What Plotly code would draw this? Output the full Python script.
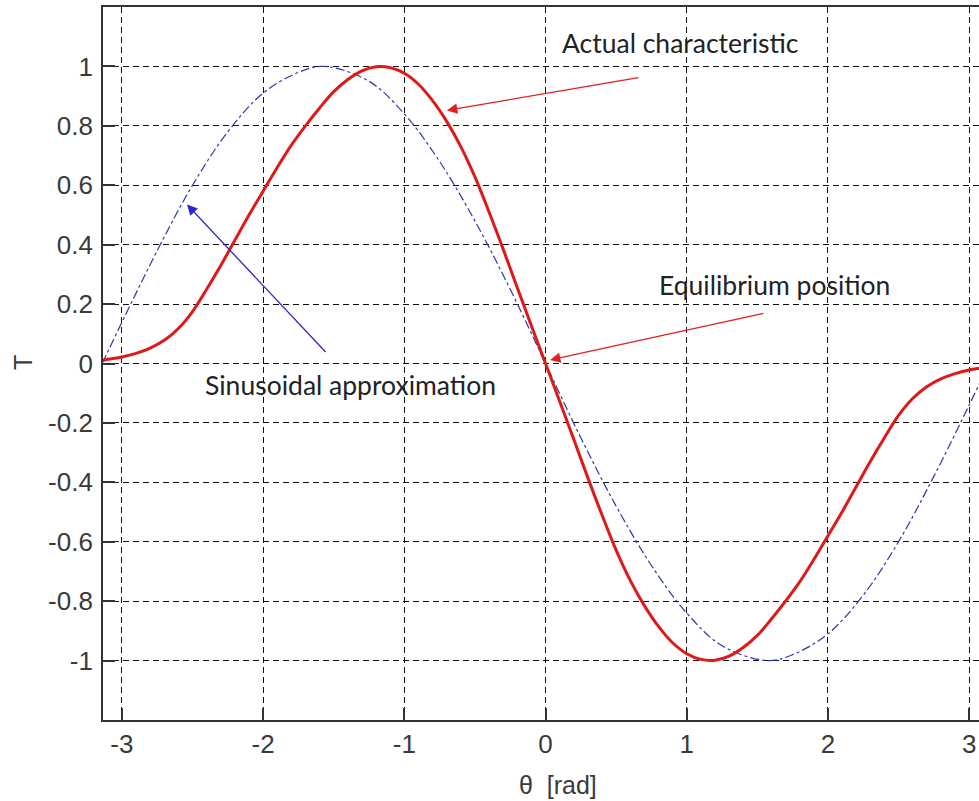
import plotly.graph_objects as go

# Actual characteristic
actual_x = [-3.14, -3.1, -3.0, -2.9, -2.8, -2.7, -2.6, -2.5, -2.4, -2.3, -2.2, -2.1, -2.0,
            -1.9, -1.8, -1.7, -1.6, -1.5, -1.4, -1.3, -1.2, -1.1, -1.0, -0.9, -0.8, -0.7,
            -0.6, -0.5, -0.4, -0.3, -0.2, -0.1, 0.0,
            0.1, 0.2, 0.3, 0.4, 0.5, 0.6, 0.7, 0.8, 0.9, 1.0, 1.1, 1.2, 1.3, 1.4, 1.5,
            1.6, 1.7, 1.8, 1.9, 2.0, 2.1, 2.2, 2.3, 2.4, 2.5, 2.6, 2.7, 2.8, 2.9, 3.0,
            3.1, 3.14]
actual_y = [0.01, 0.014, 0.022, 0.034, 0.052, 0.078, 0.118, 0.175, 0.25, 0.33, 0.415, 0.5, 0.58,
            0.66, 0.735, 0.8, 0.86, 0.915, 0.956, 0.985, 0.999, 0.996, 0.977, 0.94, 0.885, 0.815,
            0.73, 0.628, 0.51, 0.385, 0.255, 0.127, 0.0,
            -0.127, -0.255, -0.385, -0.51, -0.628, -0.73, -0.815, -0.885, -0.94, -0.977, -0.996,
            -0.999, -0.985, -0.956, -0.915, -0.86, -0.8, -0.735, -0.66, -0.58, -0.5, -0.415,
            -0.33, -0.25, -0.175, -0.118, -0.078, -0.052, -0.034, -0.022, -0.014, -0.01]

# Sinusoidal approximation
sin_x = [-3.14, -2.75, -2.5, -2.25, -2.0, -1.75, -1.57, -1.25, -1.0, -0.75, -0.5, -0.25,
         0.0, 0.25, 0.5, 0.75, 1.0, 1.25, 1.57, 1.75, 2.0, 2.25, 2.5, 2.75, 3.0, 3.14]
sin_y = [0.0, 0.38, 0.6, 0.78, 0.91, 0.98, 1.0, 0.95, 0.84, 0.68, 0.48, 0.25,
         0.0, -0.25, -0.48, -0.68, -0.84, -0.95, -1.0, -0.98, -0.91, -0.78, -0.6, -0.38, -0.14, 0.0]

x_ticks = [-3, -2, -1, 0, 1, 2, 3]
y_ticks = [-1, -0.8, -0.6, -0.4, -0.2, 0, 0.2, 0.4, 0.6, 0.8, 1]
y_ticklabels = ["-1", "-0.8", "-0.6", "-0.4", "-0.2", "0", "0.2", "0.4", "0.6", "0.8", "1"]

fig = go.Figure()
fig.add_trace(go.Scatter(x=sin_x, y=sin_y, mode="lines", line_shape="spline",
                         line=dict(color="#2b3aa8", width=1.2, dash="dashdot"),
                         showlegend=False, hoverinfo="skip"))
fig.add_trace(go.Scatter(x=actual_x, y=actual_y, mode="lines", line_shape="spline",
                         line=dict(color="#e01818", width=3),
                         showlegend=False, hoverinfo="skip"))

axis_common = dict(showgrid=True, gridcolor="#111", griddash="6px,4px", gridwidth=1.2,
                   zeroline=False, showline=True, linecolor="#333", linewidth=1.8,
                   ticks="inside", ticklen=12, tickwidth=1.5, tickcolor="#333",
                   automargin=False,
                   tickfont=dict(family="Liberation Sans, Arial", size=26, color="#3a3a3a"))

fig.update_xaxes(range=[-3.134, 3.07], tickvals=x_ticks, ticktext=[str(v) for v in x_ticks],
                 mirror=True, **axis_common)
fig.update_yaxes(range=[-1.2, 1.2], tickvals=y_ticks, ticktext=y_ticklabels,
                 mirror=False, ticklabelstandoff=3, **axis_common)

txt_font = dict(family="Lato, Open Sans", size=26.5, color="#222")
annotations = [
    dict(x=-0.698, y=0.852, xref="x", yref="y", ax=193, ay=-33, text="",
         showarrow=True, arrowhead=2, arrowsize=1.6, arrowwidth=1.3, arrowcolor="#e02020"),
    dict(x=0.032, y=0.012, xref="x", yref="y", ax=215, ay=-47, text="",
         showarrow=True, arrowhead=2, arrowsize=1.6, arrowwidth=1.3, arrowcolor="#e02020"),
    dict(x=-2.539, y=0.535, xref="x", yref="y", ax=140, ay=149, text="",
         showarrow=True, arrowhead=2, arrowsize=1.6, arrowwidth=1.3, arrowcolor="#2828c8"),
    dict(x=0.953, y=1.078, xref="x", yref="y", text="Actual characteristic",
         showarrow=False, font=txt_font, xanchor="center", yanchor="middle"),
    dict(x=1.625, y=0.265, xref="x", yref="y", text="Equilibrium position",
         showarrow=False, font=txt_font, xanchor="center", yanchor="middle"),
    dict(x=-1.378, y=-0.0725, xref="x", yref="y", text="Sinusoidal approximation",
         showarrow=False, font=txt_font, xanchor="center", yanchor="middle"),
    dict(x=558, y=785, xref="paper", yref="paper", text="θ  [rad]", showarrow=False,
         xanchor="center", yanchor="middle",
         font=dict(family="Liberation Sans, Arial", size=25, color="#3a3a3a")),
    dict(x=23, y=363, xref="paper", yref="paper", text="T", showarrow=False, textangle=-90,
         xanchor="center", yanchor="middle",
         font=dict(family="Liberation Sans, Arial", size=25, color="#3a3a3a")),
]
# convert pixel-specified paper annotations
W, H = 979, 801
L, R, T, B = 103, 0, 7, 81
pw, ph = W - L - R, H - T - B
for a in annotations:
    if a.get("xref") == "paper":
        a["x"] = (a["x"] - L) / pw
        a["y"] = (H - B - a["y"]) / ph

fig.update_layout(width=W, height=H, margin=dict(l=L, r=R, t=T, b=B),
                  plot_bgcolor="white", paper_bgcolor="white",
                  annotations=annotations)

fig.write_html("out.html", config={"displayModeBar": False},
               post_script="document.body.style.margin='0px';document.body.style.overflow='hidden';")
